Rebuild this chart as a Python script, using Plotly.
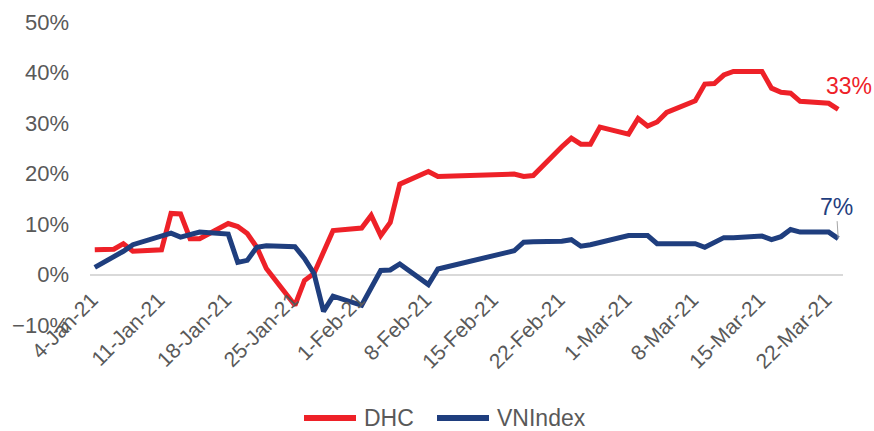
import plotly.graph_objects as go

dates = [
    "2021-01-04", "2021-01-05", "2021-01-06", "2021-01-07", "2021-01-08",
    "2021-01-11", "2021-01-12", "2021-01-13", "2021-01-14", "2021-01-15",
    "2021-01-18", "2021-01-19", "2021-01-20", "2021-01-21", "2021-01-22",
    "2021-01-25", "2021-01-26", "2021-01-27", "2021-01-28", "2021-01-29",
    "2021-02-01", "2021-02-02", "2021-02-03", "2021-02-04", "2021-02-05",
    "2021-02-08", "2021-02-09",
    "2021-02-17", "2021-02-18", "2021-02-19",
    "2021-02-22", "2021-02-23", "2021-02-24", "2021-02-25", "2021-02-26",
    "2021-03-01", "2021-03-02", "2021-03-03", "2021-03-04", "2021-03-05",
    "2021-03-08", "2021-03-09", "2021-03-10", "2021-03-11", "2021-03-12",
    "2021-03-15", "2021-03-16", "2021-03-17", "2021-03-18", "2021-03-19",
    "2021-03-22", "2021-03-23",
]

dhc = [
    4.9, 5.0, 5.0, 6.1, 4.6,
    4.9, 12.1, 12.0, 7.1, 7.1,
    10.1, 9.5, 8.1, 5.4, 1.2,
    -6.1, -1.2, 0.2, 4.4, 8.7,
    9.2, 11.7, 7.7, 10.3, 17.9,
    20.4, 19.4,
    19.9, 19.4, 19.6,
    25.3, 27.0, 25.8, 25.8, 29.2,
    27.8, 30.9, 29.4, 30.2, 32.1,
    34.4, 37.7, 37.8, 39.5, 40.2,
    40.2, 36.9, 36.1, 35.9, 34.3,
    33.9, 32.7,
]

vnindex = [
    1.4, 2.4, 3.4, 4.6, 5.9,
    7.7, 8.2, 7.4, 7.8, 8.4,
    8.0, 2.4, 2.8, 5.4, 5.7,
    5.5, 3.2, 0.2, -7.3, -4.3,
    -6.1, -2.7, 0.8, 0.9, 2.1,
    -2.0, 1.1,
    4.7, 6.4, 6.5,
    6.6, 6.9, 5.6, 5.9, 6.3,
    7.7, 7.7, 7.7, 6.1, 6.1,
    6.1, 5.4, 6.4, 7.3, 7.3,
    7.6, 6.9, 7.5, 8.9, 8.4,
    8.4, 7.1,
]

tick_dates = ["2021-01-04", "2021-01-11", "2021-01-18", "2021-01-25", "2021-02-01",
              "2021-02-08", "2021-02-15", "2021-02-22", "2021-03-01", "2021-03-08",
              "2021-03-15", "2021-03-22"]
tick_text = ["4-Jan-21", "11-Jan-21", "18-Jan-21", "25-Jan-21", "1-Feb-21", "8-Feb-21",
             "15-Feb-21", "22-Feb-21", "1-Mar-21", "8-Mar-21", "15-Mar-21", "22-Mar-21"]

y_ticks = [-0.1, 0.0, 0.1, 0.2, 0.3, 0.4, 0.5]

series_names = ["DHC", "VNIndex"]

RED = "#EE2128"
BLUE = "#1F3E7E"
GREY = "#595959"
FONT = "Liberation Sans, Arial, sans-serif"

W, H = 874, 431
L, R, T, B = 90, 31, 22, 106
PW, PH = W - L - R, H - T - B


def px_x(px):
    return (px - L) / PW


def px_y(py):
    return (H - B - py) / PH


fig = go.Figure()
fig.add_trace(go.Scatter(x=dates, y=[v / 100 for v in dhc], name=series_names[0], mode="lines",
                         line=dict(color=RED, width=5), showlegend=False))
fig.add_trace(go.Scatter(x=dates, y=[v / 100 for v in vnindex], name=series_names[1], mode="lines",
                         line=dict(color=BLUE, width=5), showlegend=False))

fig.add_annotation(x=dates[-1], y=dhc[-1] / 100, text=f"{round(dhc[-1])}%", showarrow=False,
                   xshift=11, yshift=23, font=dict(color=RED, size=23, family=FONT))
fig.add_annotation(x=dates[-1], y=vnindex[-1] / 100, text=f"{round(vnindex[-1])}%", showarrow=True,
                   ax=-2, ay=-32, arrowhead=0, arrowwidth=1, arrowcolor="#A6A6A6", standoff=0,
                   font=dict(color=BLUE, size=23, family=FONT))

# custom legend (wider line samples like the original)
LEG_Y = 418
legend_items = [(series_names[0], RED, 304, 356, 362), (series_names[1], BLUE, 437, 489, 495)]
for name, col, x0, x1, tx in legend_items:
    fig.add_shape(type="line", xref="paper", yref="paper",
                  x0=px_x(x0), x1=px_x(x1), y0=px_y(LEG_Y), y1=px_y(LEG_Y),
                  line=dict(color=col, width=6))
    fig.add_annotation(xref="paper", yref="paper", x=px_x(tx), y=px_y(LEG_Y), text=name,
                       showarrow=False, xanchor="left", yanchor="middle",
                       font=dict(size=23, color=GREY, family=FONT))

fig.update_layout(
    width=W, height=H,
    margin=dict(l=L, r=R, t=T, b=B, autoexpand=False),
    paper_bgcolor="white", plot_bgcolor="white",
    font=dict(family=FONT, color=GREY, size=22),
    showlegend=False,
    xaxis=dict(type="date", range=["2021-01-03 12:00", "2021-03-23 12:00"],
               tickvals=tick_dates, ticktext=tick_text, tickangle=-45,
               showgrid=False, showline=False, zeroline=False, ticks="",
               anchor="free", position=1 / 6, automargin=False,
               ticklabelstandoff=8, ticklabelshift=-3,
               tickfont=dict(size=21, color=GREY)),
    yaxis=dict(range=[-0.1, 0.5], tickvals=y_ticks, tickformat=".0%",
               showgrid=False, zeroline=True, zerolinecolor="#D9D9D9", zerolinewidth=2,
               showline=False, ticks="", ticklabelstandoff=20, automargin=False,
               tickfont=dict(size=22, color=GREY)),
)

fig.write_html("out.html")
